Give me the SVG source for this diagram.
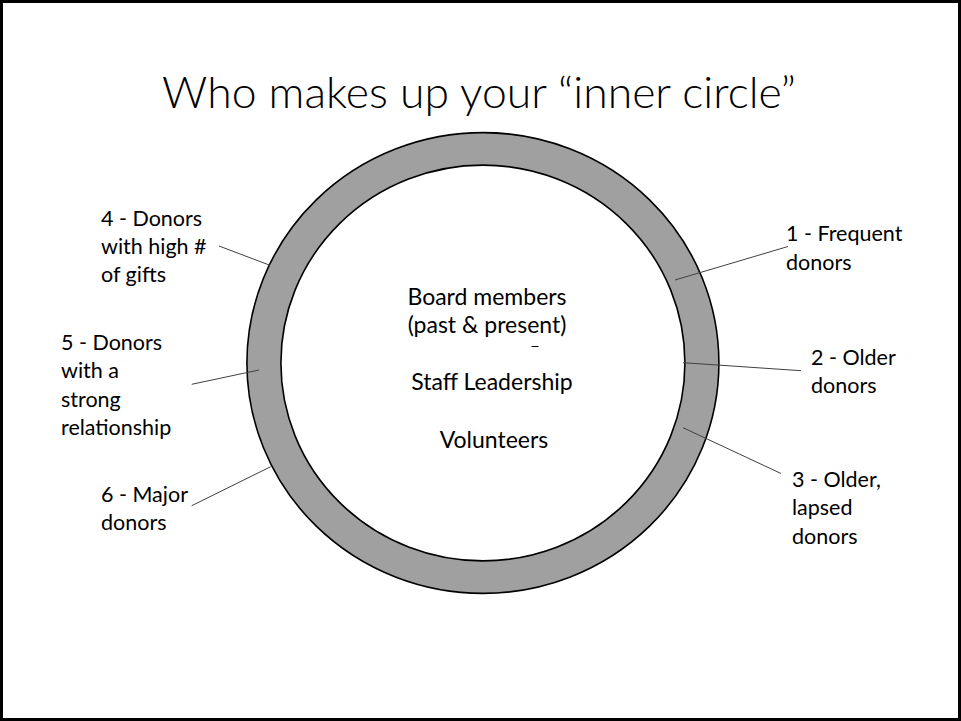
<svg xmlns="http://www.w3.org/2000/svg" width="961" height="721" viewBox="0 0 961 721">
  <style>
    .title { font-family: Lato, "Liberation Sans", sans-serif; font-weight: 300; font-size: 44px; fill: #000; }
    .lbl { font-family: Lato, "Liberation Sans", sans-serif; font-size: 21.5px; fill: #000; }
    .mid { font-family: Lato, "Liberation Sans", sans-serif; font-size: 23px; fill: #000; text-anchor: middle; }
    .ring { fill: #a0a0a0; stroke: #000; stroke-width: 1.6; fill-rule: evenodd; }
    .lead { stroke: #404040; stroke-width: 1; fill: none; }
  </style>

  <!-- slide frame -->
  <rect x="1.5" y="1.5" width="958" height="718" fill="#fff" stroke="#000" stroke-width="3"/>

  <text class="title" x="162" y="107.5" textLength="634" lengthAdjust="spacingAndGlyphs">Who makes up your “inner circle”</text>

  <!-- the ring: outer and inner ellipse cut as one shape -->
  <g id="ring">
    <path class="ring" d="M 246.9 363 A 236 230.4 0 1 0 718.9 363 A 236 230.4 0 1 0 246.9 363 Z M 280.9 363 A 202 197.8 0 1 1 684.9 363 A 202 197.8 0 1 1 280.9 363 Z"/>
  </g>

  <!-- centre contents -->
  <g id="core">
    <text class="mid" x="487" y="305">Board members</text>
    <text class="mid" x="487" y="333">(past &amp; present)</text>
    <line x1="531.5" y1="346.5" x2="538.5" y2="346.5" stroke="#000" stroke-width="1"/>
    <text class="mid" x="492" y="390">Staff Leadership</text>
    <text class="mid" x="494" y="448">Volunteers</text>
  </g>

  <!-- leader lines -->
  <g id="connectors">
    <line class="lead" x1="675" y1="280" x2="788" y2="246.5"/>
    <line class="lead" x1="683" y1="362.7" x2="801" y2="370.7"/>
    <line class="lead" x1="683" y1="427.7" x2="781" y2="473.5"/>
    <line class="lead" x1="219" y1="246" x2="270" y2="265.3"/>
    <line class="lead" x1="191.7" y1="384.3" x2="259" y2="370"/>
    <line class="lead" x1="191.7" y1="505.7" x2="270.7" y2="466.7"/>
  </g>

  <g id="label-1">
    <text class="lbl" x="786" y="241">1 - Frequent</text>
    <text class="lbl" x="786" y="269.5">donors</text>
  </g>
  <g id="label-2">
    <text class="lbl" x="811" y="364.5">2 - Older</text>
    <text class="lbl" x="811" y="393">donors</text>
  </g>
  <g id="label-3">
    <text class="lbl" x="792" y="487">3 - Older,</text>
    <text class="lbl" x="792" y="515">lapsed</text>
    <text class="lbl" x="792" y="543.5">donors</text>
  </g>
  <g id="label-4">
    <text class="lbl" x="101" y="226">4 - Donors</text>
    <text class="lbl" x="101" y="254">with high #</text>
    <text class="lbl" x="101" y="282">of gifts</text>
  </g>
  <g id="label-5">
    <text class="lbl" x="61" y="349.5">5 - Donors</text>
    <text class="lbl" x="61" y="378">with a</text>
    <text class="lbl" x="61" y="406.5">strong</text>
    <text class="lbl" x="61" y="435">relationship</text>
  </g>
  <g id="label-6">
    <text class="lbl" x="101" y="501.5">6 - Major</text>
    <text class="lbl" x="101" y="530">donors</text>
  </g>
</svg>
